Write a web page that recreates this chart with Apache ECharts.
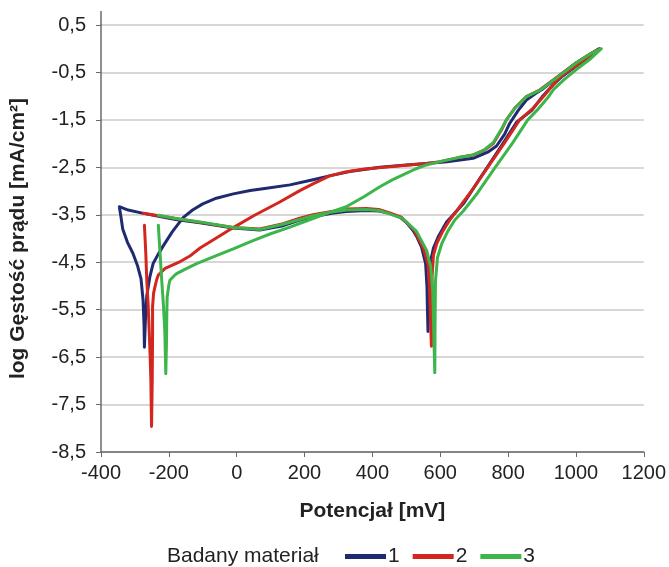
<!DOCTYPE html>
<html>
<head>
<meta charset="utf-8">
<script src="https://cdn.jsdelivr.net/npm/echarts@6/dist/echarts.min.js"></script>
<style>html,body{margin:0;padding:0;background:#fff}#c{width:669px;height:567px}</style>
</head>
<body>
<div id="c"></div>
<script>
// x: potential [mV], y: log current density
const material1 = [
  [-346,-3.33],[-341,-3.55],[-336,-3.8],[-322,-4.08],[-306,-4.31],[-292,-4.58],[-282,-4.85],[-276,-5.3],[-273,-5.85],[-272,-6.29],
  [-269,-5.7],[-265,-5.2],[-256,-4.81],[-246,-4.52],[-232,-4.34],[-216,-4.15],[-190,-3.86],[-158,-3.56],[-130,-3.4],[-100,-3.27],[-60,-3.15],[-10,-3.06],[40,-2.99],[88,-2.94],[157,-2.87],[225,-2.76],[280,-2.67],[333,-2.59],[422,-2.5],[500,-2.45],[559,-2.42],[620,-2.38],[697,-2.31],[740,-2.18],[766,-2.05],[790,-1.8],[805,-1.57],[830,-1.3],[854,-1.08],[880,-0.95],[900,-0.86],[942,-0.62],[1000,-0.3],[1040,-0.12],[1068,0.0],
  [1040,-0.17],[1000,-0.37],[960,-0.58],[930,-0.78],[900,-1.02],[870,-1.3],[825,-1.55],[780,-2.05],[720,-2.7],[670,-3.25],[618,-3.66],[595,-3.95],[580,-4.2],[571,-4.5],[567,-5.0],[565,-5.5],[564,-5.96],
  [562,-5.4],[561,-5.02],[557,-4.53],[545,-4.18],[530,-3.95],[520,-3.83],[500,-3.66],[481,-3.55],[451,-3.47],[419,-3.42],[382,-3.41],[323,-3.43],[280,-3.47],[225,-3.54],[186,-3.61],[137,-3.73],[68,-3.82],[-10,-3.78],[-108,-3.67],[-180,-3.6],[-230,-3.53],[-275,-3.47],[-320,-3.4],[-346,-3.33]
];
const material2 = [
  [-272,-3.72],[-268,-4.3],[-265,-4.88],[-261,-5.4],[-258,-5.93],[-255,-6.5],[-253,-6.99],[-251,-7.96],
  [-249,-7.0],[-248,-6.0],[-248,-5.44],[-245,-5.15],[-241,-5.02],[-236,-4.87],[-231,-4.77],[-221,-4.7],[-211,-4.63],[-170,-4.5],[-138,-4.37],[-108,-4.2],[-60,-3.99],[-10,-3.77],[50,-3.52],[127,-3.23],[186,-2.99],[225,-2.85],[274,-2.68],[320,-2.6],[372,-2.54],[450,-2.49],[559,-2.42],[599,-2.38],[650,-2.3],[697,-2.24],[730,-2.14],[756,-2.0],[780,-1.72],[795,-1.5],[820,-1.25],[854,-1.01],[893,-0.87],[942,-0.61],[1001,-0.3],[1040,-0.12],[1070,0.0],
  [1040,-0.16],[1000,-0.36],[960,-0.56],[942,-0.68],[903,-1.02],[870,-1.28],[834,-1.5],[790,-1.98],[740,-2.5],[690,-3.02],[650,-3.4],[628,-3.61],[605,-3.88],[590,-4.1],[580,-4.35],[576,-4.8],[575,-5.5],[574,-6.27],
  [571,-5.6],[568,-5.0],[564,-4.55],[550,-4.2],[523,-3.82],[485,-3.55],[451,-3.46],[419,-3.39],[382,-3.37],[323,-3.38],[280,-3.43],[225,-3.5],[186,-3.57],[137,-3.69],[68,-3.8],[-10,-3.77],[-108,-3.66],[-180,-3.58],[-230,-3.52],[-275,-3.47]
];
const material3 = [
  [-231,-3.72],[-226,-4.3],[-221,-4.88],[-216,-5.4],[-212,-5.93],[-209,-6.85],
  [-207,-6.2],[-206,-5.6],[-205,-5.23],[-200,-4.98],[-197,-4.88],[-185,-4.79],[-177,-4.74],[-150,-4.64],[-118,-4.53],[-60,-4.36],[-10,-4.22],[50,-4.04],[100,-3.9],[157,-3.76],[225,-3.58],[270,-3.46],[323,-3.33],[375,-3.12],[422,-2.91],[460,-2.76],[490,-2.66],[525,-2.54],[559,-2.45],[599,-2.38],[650,-2.3],[697,-2.24],[730,-2.13],[756,-1.98],[780,-1.7],[795,-1.5],[820,-1.25],[854,-1.01],[893,-0.88],[942,-0.62],[1001,-0.3],[1045,-0.1],[1075,0.0],
  [1045,-0.2],[1005,-0.42],[965,-0.65],[935,-0.85],[915,-1.05],[885,-1.3],[858,-1.5],[812,-2.0],[760,-2.52],[710,-3.04],[668,-3.42],[643,-3.61],[622,-3.85],[605,-4.1],[592,-4.4],[586,-4.9],[585,-5.6],[584,-6.83],
  [581,-6.0],[578,-5.1],[572,-4.6],[560,-4.25],[530,-3.85],[490,-3.58],[451,-3.48],[419,-3.41],[382,-3.39],[323,-3.4],[280,-3.44],[225,-3.52],[186,-3.6],[137,-3.7],[68,-3.81],[-10,-3.77],[-108,-3.65],[-180,-3.58],[-231,-3.51]
];
const seriesNames = ['1', '2', '3'];
const seriesColors = ['#1f2b70', '#d2261f', '#3cb54a'];
const xMin = -400, xMax = 1200, xStep = 200;
const yMin = -8.5, yMax = 0.5, yStep = 1;

const chart = echarts.init(document.getElementById('c'));
const font = '"Liberation Sans", Arial, sans-serif';
const axisColor = '#6a6a6a';
const data = [material1, material2, material3];
chart.setOption({
  animation: false,
  backgroundColor: '#fff',
  textStyle: { fontFamily: font },
  title: {
    text: 'Badany materiał',
    left: 167, top: 546, padding: 0,
    textStyle: { fontFamily: font, fontSize: 21, fontWeight: 'normal', color: '#222' }
  },
  legend: {
    left: 345, top: 546, padding: 0,
    icon: 'rect', itemWidth: 41, itemHeight: 5, itemGap: 13,
    textStyle: { fontFamily: font, fontSize: 21, color: '#222', padding: [0, 0, 0, -3] },
    data: seriesNames
  },
  grid: { left: 101, right: 25, top: 25, bottom: 115 },
  xAxis: {
    type: 'value', min: xMin, max: xMax, interval: xStep,
    name: 'Potencjał [mV]', nameLocation: 'middle', nameGap: 49,
    nameTextStyle: { fontFamily: font, fontSize: 21, fontWeight: 'bold', color: '#222' },
    axisLine: { show: true, onZero: false, lineStyle: { color: axisColor, width: 1.5 } },
    axisTick: { show: true, length: 5, lineStyle: { color: axisColor } },
    axisLabel: { fontFamily: font, fontSize: 20, color: '#222', margin: 11,
      formatter: v => String(v) },
    splitLine: { show: false }
  },
  yAxis: {
    type: 'value', min: yMin, max: yMax, interval: yStep,
    name: 'log Gęstość prądu [mA/cm²]', nameLocation: 'middle', nameGap: 72, nameRotate: 90,
    nameTextStyle: { fontFamily: font, fontSize: 21, fontWeight: 'bold', color: '#222' },
    axisLine: { show: true, onZero: false, lineStyle: { color: axisColor, width: 1.5 } },
    axisTick: { show: true, length: 5, lineStyle: { color: axisColor } },
    axisLabel: { fontFamily: font, fontSize: 20, color: '#222', margin: 15,
      formatter: v => v.toFixed(1).replace('.', ',') },
    splitLine: { show: true, lineStyle: { color: '#cfc8c4', width: 1.5 } }
  },
  series: data.map((d, i) => ({
    name: seriesNames[i], type: 'line', data: d, showSymbol: false, symbol: 'none',
    smooth: false, color: seriesColors[i],
    lineStyle: { width: 3, color: seriesColors[i], cap: 'round', join: 'round' },
    z: 2 + i
  }))
});
// extend the y axis line slightly above the top tick, as in the reference
const axisTopPx = chart.convertToPixel({ gridIndex: 0 }, [xMin, yMax]);
chart.setOption({
  graphic: [{
    type: 'line', silent: true,
    shape: { x1: axisTopPx[0], y1: axisTopPx[1], x2: axisTopPx[0], y2: axisTopPx[1] - 14 },
    style: { stroke: axisColor, lineWidth: 1.5 }
  }]
});
</script>
</body>
</html>
